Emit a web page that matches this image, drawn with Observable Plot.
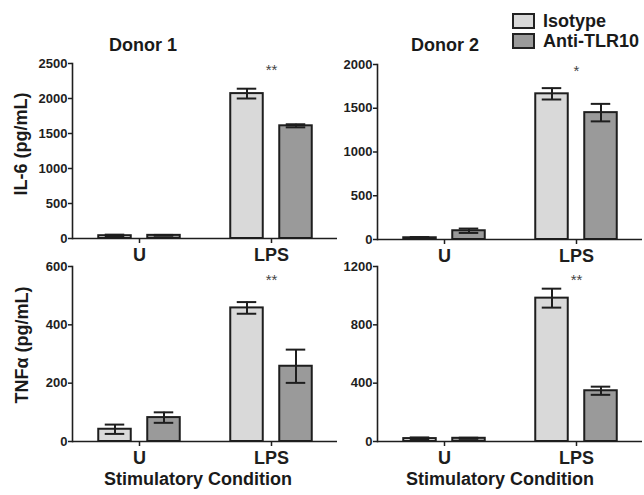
<!DOCTYPE html>
<html><head><meta charset="utf-8">
<script src="https://cdn.jsdelivr.net/npm/d3@7"></script>
<script src="https://cdn.jsdelivr.net/npm/@observablehq/plot@0.6"></script>
<style>
body{margin:0;background:#fff;}
#chart{position:relative;width:644px;height:495px;font-family:"Liberation Sans",Arial,Helvetica,sans-serif;color:#1a1a1a;overflow:hidden;background:#fff;}
.t{position:absolute;transform:translate(-50%,-50%);font-weight:bold;font-size:18px;line-height:1;white-space:nowrap;}
.rot{transform:translate(-50%,-50%) rotate(-90deg);}
.panel{position:absolute;}
.sw{position:absolute;width:19px;height:12px;border:2px solid #222;}
.lg{position:absolute;font-weight:bold;font-size:18px;line-height:1;transform:translateY(-50%);white-space:nowrap;}
</style></head><body><div id="chart"></div>
<script>
// ---- data ----
const conditions = ["U", "LPS"];
const treatments = ["Isotype", "Anti-TLR10"];
const treatmentColors = ["#d9d9d9", "#9a9a9a"];
const donors = ["Donor 1", "Donor 2"];
const cytokines = ["IL-6 (pg/mL)", "TNFα (pg/mL)"];
const xTitle = "Stimulatory Condition";

// means / SEM per condition [U, LPS]
const il6Donor1Iso = [40, 2070];   const il6Donor1IsoErr = [15, 70];
const il6Donor1Anti = [45, 1610];  const il6Donor1AntiErr = [6, 22];
const il6Donor2Iso = [20, 1665];   const il6Donor2IsoErr = [8, 65];
const il6Donor2Anti = [100, 1450]; const il6Donor2AntiErr = [25, 100];
const tnfDonor1Iso = [42, 458];    const tnfDonor1IsoErr = [16, 20];
const tnfDonor1Anti = [82, 258];   const tnfDonor1AntiErr = [18, 57];
const tnfDonor2Iso = [20, 983];    const tnfDonor2IsoErr = [8, 65];
const tnfDonor2Anti = [22, 348];   const tnfDonor2AntiErr = [4, 28];

const il6Donor1Ticks = [0, 500, 1000, 1500, 2000, 2500];
const il6Donor2Ticks = [0, 500, 1000, 1500, 2000];
const tnfDonor1Ticks = [0, 200, 400, 600];
const tnfDonor2Ticks = [0, 400, 800, 1200];

const sigLabels = ["**", "*", "**", "**"]; // IL-6 D1, IL-6 D2, TNF D1, TNF D2
const sigCondition = "LPS";

// ---- layout ----
const chart = document.getElementById("chart");
const panels = [
  {left: 0,   top: 55,  width: 340, iso: il6Donor1Iso, isoErr: il6Donor1IsoErr, anti: il6Donor1Anti, antiErr: il6Donor1AntiErr, ticks: il6Donor1Ticks, sig: sigLabels[0], sigDy: 1},
  {left: 305, top: 56,  width: 339, iso: il6Donor2Iso, isoErr: il6Donor2IsoErr, anti: il6Donor2Anti, antiErr: il6Donor2AntiErr, ticks: il6Donor2Ticks, sig: sigLabels[1], sigDy: 1},
  {left: 0,   top: 258, width: 340, iso: tnfDonor1Iso, isoErr: tnfDonor1IsoErr, anti: tnfDonor1Anti, antiErr: tnfDonor1AntiErr, ticks: tnfDonor1Ticks, sig: sigLabels[2], sigDy: 8},
  {left: 305, top: 258, width: 339, iso: tnfDonor2Iso, isoErr: tnfDonor2IsoErr, anti: tnfDonor2Anti, antiErr: tnfDonor2AntiErr, ticks: tnfDonor2Ticks, sig: sigLabels[3], sigDy: 8}
];

const ml = 72, mt = 8, mb = 32, H = 215;
const barW = 33, capW = 20, off = 24.5;
const ink = "#1e1e1e";

panels.forEach(p => {
  const mr = p.width - ml - 265 > 0 ? p.width - ml - 265 : 3;
  const band = (p.width - ml - mr) / conditions.length;
  const data = conditions.flatMap((c, i) => [
    {cond: c, trt: treatments[0], v: p.iso[i], e: p.isoErr[i], k: 0},
    {cond: c, trt: treatments[1], v: p.anti[i], e: p.antiErr[i], k: 1}
  ]);
  const marks = [];
  [0, 1].forEach(k => {
    const d = data.filter(r => r.k === k);
    const dx = k === 0 ? -off : off;
    marks.push(Plot.barY(d, {x: "cond", y: "v", fill: treatmentColors[k], stroke: ink, strokeWidth: 2,
      insetLeft: (band - barW) / 2, insetRight: (band - barW) / 2, dx}));
    marks.push(Plot.ruleX(d, {x: "cond", y1: r => r.v - r.e, y2: r => r.v + r.e, stroke: ink, strokeWidth: 2, dx}));
    marks.push(Plot.tickY(d, {x: "cond", y: r => r.v + r.e, stroke: ink, strokeWidth: 2,
      insetLeft: (band - capW) / 2, insetRight: (band - capW) / 2, dx}));
    marks.push(Plot.tickY(d, {x: "cond", y: r => Math.max(0, r.v - r.e), stroke: ink, strokeWidth: 2,
      insetLeft: (band - capW) / 2, insetRight: (band - capW) / 2, dx}));
  });
  marks.push(Plot.ruleY([0], {stroke: ink, strokeWidth: 1.6}));
  marks.push(Plot.frame({anchor: "left", stroke: ink, strokeWidth: 1.6}));
  marks.push(Plot.axisY({ticks: p.ticks, tickFormat: d3.format("d"), tickSize: 4, tickPadding: 1, fontSize: 13, fontWeight: "bold", color: ink, label: null, strokeWidth: 1.5}));
  marks.push(Plot.axisX({tickSize: 5, tickPadding: 5, fontSize: 18, fontWeight: "bold", color: ink, label: null, strokeWidth: 1.5}));
  marks.push(Plot.text([{cond: sigCondition, s: p.sig}], {x: "cond", text: "s", frameAnchor: "top", dy: p.sigDy, fontSize: 15, fill: "#444"}));

  const svg = Plot.plot({
    width: p.width, height: H,
    marginLeft: ml, marginRight: mr, marginTop: mt, marginBottom: mb,
    style: {background: "transparent", overflow: "visible", fontFamily: '"Liberation Sans", Arial, sans-serif'},
    x: {domain: conditions, padding: 0, axis: null},
    y: {domain: [p.ticks[0], p.ticks[p.ticks.length - 1]], axis: null},
    marks
  });
  const div = document.createElement("div");
  div.className = "panel";
  div.style.left = p.left + "px"; div.style.top = p.top + "px";
  div.style.width = p.width + "px"; div.style.height = H + "px";
  div.appendChild(svg);
  chart.appendChild(div);
});

function addText(txt, x, y, cls) {
  const d = document.createElement("div");
  d.className = cls; d.textContent = txt;
  d.style.left = x + "px"; d.style.top = y + "px";
  chart.appendChild(d);
}
addText(donors[0], 143, 45, "t");
addText(donors[1], 445, 45, "t");
addText(cytokines[0], 21, 144, "t rot");
addText(cytokines[1], 22, 345, "t rot");
addText(xTitle, 198, 479, "t");
addText(xTitle, 500, 479, "t");

// legend
treatments.forEach((t, i) => {
  const sw = document.createElement("div");
  sw.className = "sw";
  sw.style.left = "512px"; sw.style.top = (13 + i * 20) + "px";
  sw.style.background = treatmentColors[i];
  chart.appendChild(sw);
  const lg = document.createElement("div");
  lg.className = "lg"; lg.textContent = t;
  lg.style.left = "543px"; lg.style.top = (21 + i * 20) + "px";
  chart.appendChild(lg);
});
</script></body></html>
